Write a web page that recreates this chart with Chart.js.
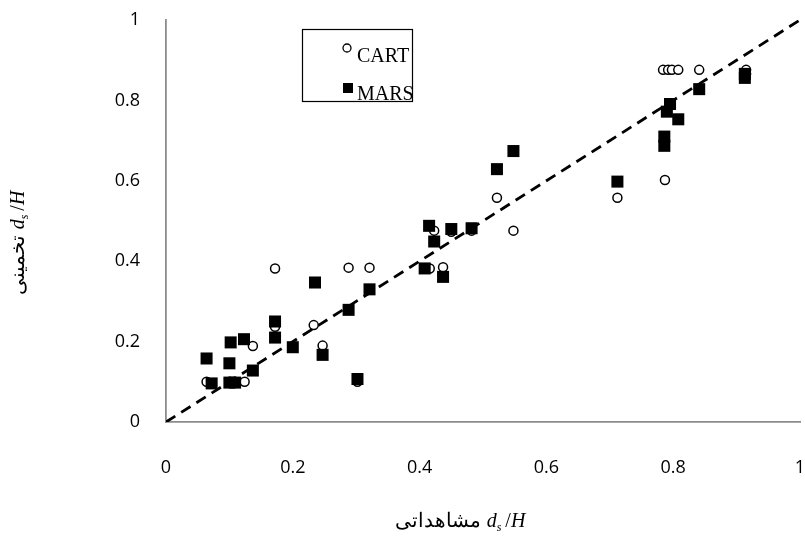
<!DOCTYPE html>
<html><head><meta charset="utf-8">
<script src="https://cdn.jsdelivr.net/npm/chart.js@4/dist/chart.umd.min.js"></script>
<style>html,body{margin:0;padding:0;background:#fff;}#wrap{width:805px;height:539px;}</style>
</head><body><div id="wrap"><canvas id="c" width="805" height="539"></canvas></div>
<script>
const axisTicks = [0, 0.2, 0.4, 0.6, 0.8, 1];
const cartX = [0.064,0.100,0.109,0.124,0.137,0.172,0.172,0.233,0.247,0.288,0.302,0.321,0.416,0.423,0.437,0.450,0.482,0.522,0.548,0.712,0.787,0.784,0.792,0.798,0.808,0.841,0.915,0.915];
const cartY = [0.100,0.100,0.100,0.100,0.189,0.237,0.382,0.241,0.190,0.384,0.100,0.384,0.382,0.476,0.385,0.473,0.476,0.558,0.476,0.558,0.602,0.876,0.876,0.876,0.876,0.876,0.876,0.866];
const marsX = [0.064,0.072,0.102,0.100,0.100,0.109,0.123,0.137,0.172,0.172,0.200,0.235,0.247,0.288,0.302,0.321,0.408,0.415,0.423,0.437,0.450,0.482,0.522,0.548,0.712,0.786,0.786,0.790,0.795,0.808,0.841,0.913,0.913];
const marsY = [0.158,0.096,0.198,0.146,0.098,0.098,0.206,0.128,0.250,0.210,0.186,0.347,0.167,0.279,0.107,0.330,0.382,0.488,0.449,0.361,0.480,0.482,0.629,0.674,0.598,0.710,0.687,0.772,0.791,0.753,0.828,0.866,0.856];
const lineX = [0, 1];
const lineY = [0, 1];
const seriesNames = ['CART', 'MARS'];
const xTitleAr = 'مشاهداتی';
const yTitleAr = 'تخمینی';

const toPts = (xs, ys) => xs.map((x, i) => ({x: x, y: ys[i]}));

const serif = '"Liberation Serif", "DejaVu Serif", serif';

function drawRatio(ctx, x, baseline, size) {
  ctx.textBaseline = 'alphabetic';
  ctx.textAlign = 'left';
  ctx.font = 'italic ' + size + 'px ' + serif;
  ctx.fillText('d', x, baseline); x += ctx.measureText('d').width;
  ctx.font = 'italic ' + Math.round(size * 0.62) + 'px ' + serif;
  ctx.fillText('s', x, baseline + size * 0.22); x += ctx.measureText('s').width + 4;
  ctx.font = size + 'px ' + serif;
  ctx.fillText('/', x, baseline); x += ctx.measureText('/').width;
  ctx.font = 'italic ' + size + 'px ' + serif;
  ctx.fillText('H', x, baseline); x += ctx.measureText('H').width;
  return x;
}
function ratioWidth(ctx, size) {
  let w = 0;
  ctx.font = 'italic ' + size + 'px ' + serif; w += ctx.measureText('d').width + ctx.measureText('H').width;
  ctx.font = 'italic ' + Math.round(size * 0.62) + 'px ' + serif; w += ctx.measureText('s').width + 4;
  ctx.font = size + 'px ' + serif; w += ctx.measureText('/').width;
  return w;
}
function drawTitle(ctx, cx, baseline, ar, size) {
  ctx.font = size + 'px ' + serif;
  const arW = ctx.measureText(ar).width;
  const gap = 6;
  const total = arW + gap + ratioWidth(ctx, size);
  let x = cx - total / 2;
  ctx.font = size + 'px ' + serif;
  ctx.textAlign = 'left';
  ctx.textBaseline = 'alphabetic';
  ctx.fillText(ar, x, baseline);
  drawRatio(ctx, x + arW + gap, baseline, size);
}

const extras = {
  id: 'extras',
  afterDraw(chart) {
    const ctx = chart.ctx;
    ctx.save();
    ctx.fillStyle = '#000';
    drawTitle(ctx, 460, 527, xTitleAr, 20);
    ctx.save();
    ctx.translate(24, 243);
    ctx.rotate(-Math.PI / 2);
    drawTitle(ctx, 0, 0, yTitleAr, 20);
    ctx.restore();
    // legend
    const bx = 302, by = 29, bw = 110, bh = 72;
    ctx.fillStyle = '#fff';
    ctx.fillRect(bx, by, bw, bh);
    ctx.strokeStyle = '#000';
    ctx.lineWidth = 1.2;
    ctx.strokeRect(bx + 0.5, by + 0.5, bw, bh);
    ctx.beginPath();
    ctx.arc(347, 48, 4, 0, Math.PI * 2);
    ctx.fillStyle = '#fff'; ctx.fill();
    ctx.lineWidth = 1.3; ctx.strokeStyle = '#000'; ctx.stroke();
    ctx.fillStyle = '#000';
    ctx.fillRect(343, 83, 10, 10);
    ctx.font = '20px ' + serif;
    ctx.textAlign = 'left'; ctx.textBaseline = 'alphabetic';
    ctx.fillText(seriesNames[0], 357, 62);
    ctx.fillText(seriesNames[1], 357, 100);
    ctx.restore();
  }
};

new Chart(document.getElementById('c'), {
  type: 'scatter',
  data: {
    datasets: [
      {label: seriesNames[1], data: toPts(marsX, marsY), order: 0, pointStyle: 'rect', pointRadius: 8.5, pointHoverRadius: 8.5, backgroundColor: '#000', borderColor: '#000', borderWidth: 0},
      {label: seriesNames[0], data: toPts(cartX, cartY), order: 1, pointStyle: 'circle', pointRadius: 4.5, pointHoverRadius: 4.5, backgroundColor: '#fff', borderColor: '#000', borderWidth: 1.5},
      {label: 'line', data: toPts(lineX, lineY), order: 2, showLine: true, pointRadius: 0, borderColor: '#000', borderWidth: 2.8, borderDash: [11, 7], fill: false}
    ]
  },
  options: {
    responsive: false,
    animation: false,
    events: [],
    layout: {autoPadding: false, padding: {left: 0, right: 5, top: 20, bottom: 0}},
    plugins: {legend: {display: false}, tooltip: {enabled: false}},
    scales: {
      x: {
        type: 'linear', min: 0, max: 1,
        afterBuildTicks(s) { s.ticks = axisTicks.map(v => ({value: v})); },
        afterFit(s) { s.height = 117; s.paddingLeft = 0; s.paddingRight = 0; },
        grid: {display: false, drawTicks: true, tickLength: 8, tickColor: '#8c8c8c', tickWidth: 1.5},
        border: {color: '#8c8c8c', width: 1.8},
        ticks: {color: '#000', padding: 27, font: {family: '"Open Sans", "Liberation Sans", sans-serif', size: 18}, maxRotation: 0, callback: v => String(v)}
      },
      y: {
        type: 'linear', min: 0, max: 1,
        afterBuildTicks(s) { s.ticks = axisTicks.map(v => ({value: v})); },
        afterFit(s) { s.width = 166; s.paddingTop = 0; s.paddingBottom = 0; },
        grid: {display: false, drawTicks: true, tickLength: 8, tickColor: '#8c8c8c', tickWidth: 1.5},
        border: {color: '#8c8c8c', width: 1.8},
        ticks: {color: '#000', padding: 18, font: {family: '"Open Sans", "Liberation Sans", sans-serif', size: 18}, callback: v => String(v)}
      }
    }
  },
  plugins: [extras]
});
</script></body></html>
